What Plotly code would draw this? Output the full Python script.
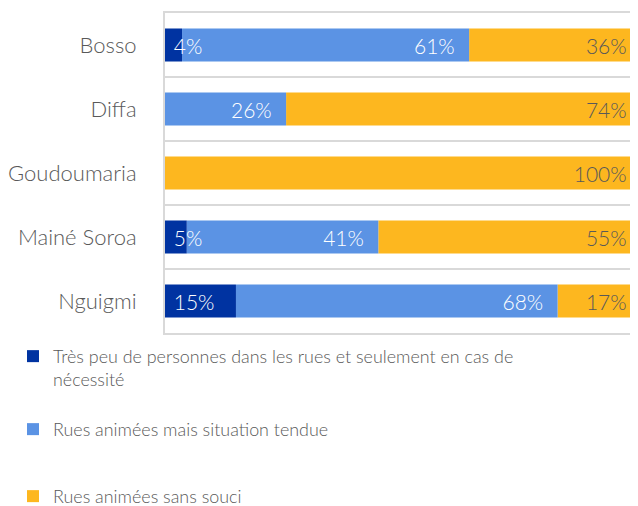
import plotly.graph_objects as go

categories = ["Bosso", "Diffa", "Goudoumaria", "Mainé Soroa", "Nguigmi"]
tres_peu = [3.6, 0, 0, 4.6, 15]
tendue = [60.7, 25.6, 0, 40.5, 68]
sans_souci = [35.7, 74.4, 100, 54.9, 17]

names = [
    "Très peu de personnes dans les rues et seulement en cas de<br>nécessité",
    "Rues animées mais situation tendue",
    "Rues animées sans souci",
]
colors = ["#0033A1", "#5B93E4", "#FDB71F"]
FONT = "Lato"
GRAY = "#595959"
NB = "\u00a0"
THIN = "\u2009"

def labels(vals, pre="", post=""):
    return [f"{pre}{int(v + 0.5)}%{post}" if v > 0 else "" for v in vals]

# stacking bases (segments drawn right-to-left so left labels stay on top)
base_tendue = tres_peu
base_sans = [a + b for a, b in zip(tres_peu, tendue)]

# page body has an 8px offset; figure sized so it ends at the window edge
W, H = 630, 498

fig = go.Figure()
fig.add_trace(go.Bar(
    y=categories, x=sans_souci, base=base_sans, orientation="h", name=names[2],
    marker=dict(color=colors[2], line=dict(width=0)),
    text=labels(sans_souci, post=NB + THIN), textposition="inside",
    insidetextanchor="end", textangle=0, constraintext="none",
    insidetextfont=dict(family=FONT, size=21, color=GRAY, weight=300),
    legend="legend3",
))
fig.add_trace(go.Bar(
    y=categories, x=tendue, base=base_tendue, orientation="h", name=names[1],
    marker=dict(color=colors[1], line=dict(width=0)),
    text=labels(tendue, post=NB * 2), textposition="inside",
    insidetextanchor="end", textangle=0, constraintext="none",
    insidetextfont=dict(family=FONT, size=21, color="white", weight=300),
    legend="legend2",
))
fig.add_trace(go.Bar(
    y=categories, x=tres_peu, orientation="h", name=names[0],
    marker=dict(color=colors[0], line=dict(width=0)),
    text=labels(tres_peu, pre=NB), textposition="inside",
    insidetextanchor="start", textangle=0, constraintext="none",
    insidetextfont=dict(family=FONT, size=21, color="white", weight=300),
    legend="legend",
))

legend_common = dict(
    xref="container", yref="container", xanchor="left", yanchor="top",
    font=dict(family=FONT, size=17.9, color=GRAY, weight=300),
    bgcolor="rgba(0,0,0,0)", valign="top", itemwidth=30,
)

fig.update_layout(
    width=W, height=H,
    margin=dict(l=157, r=0, t=5, b=H - 5 - 320, autoexpand=False),
    barmode="overlay", bargap=0.484,
    plot_bgcolor="white", paper_bgcolor="white",
    font=dict(family=FONT, color=GRAY),
    showlegend=True,
    legend=dict(**legend_common, x=5 / W, y=1 - 330 / H),
    legend2=dict(**legend_common, x=5 / W, y=1 - 403 / H),
    legend3=dict(**legend_common, x=5 / W, y=1 - 470 / H),
    xaxis=dict(range=[0, 100], showgrid=False, zeroline=False,
               showticklabels=False, showline=True, mirror=True,
               linecolor="#D9D9D9", linewidth=2, fixedrange=True),
    yaxis=dict(categoryorder="array", categoryarray=categories,
               autorange="reversed", tickson="boundaries", ticks="",
               showgrid=True, gridcolor="#D9D9D9", gridwidth=2,
               showline=True, linecolor="#D9D9D9", linewidth=2,
               ticklabelstandoff=22,
               tickfont=dict(family=FONT, size=22, color=GRAY, weight=300)),
)

fig.write_html("out.html")
